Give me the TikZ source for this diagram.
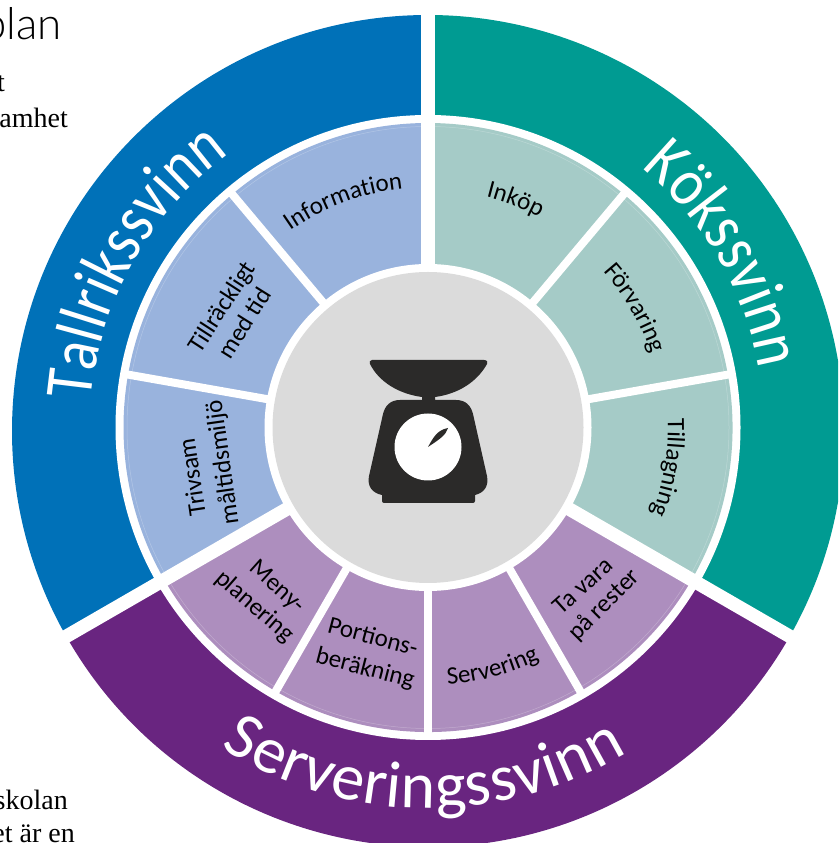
\documentclass[tikz,border=0pt]{standalone}
\usepackage{fontspec}
\usepackage{tikz}
\usetikzlibrary{decorations.text}
\newfontfamily\wheelfont{Carlito}
\newfontfamily\tightfont[FakeStretch=0.85]{Carlito}
\newfontfamily\headfont{Lato Light}
\newfontfamily\bookfont{Liberation Serif}
\newcommand{\bigtext}{\wheelfont\fontsize{66}{66}\selectfont\color{white}}
\newcommand{\tighttext}{\tightfont\fontsize{68}{68}\selectfont\color{white}}
\newcommand{\smalltext}{\wheelfont\fontsize{25}{25}\selectfont\color{black}}
\definecolor{plateblue}{HTML}{0071B8}
\definecolor{kitchengreen}{HTML}{009B92}
\definecolor{servepurple}{HTML}{692580}
\definecolor{plateblue2}{HTML}{99B3DD}
\definecolor{kitchengreen2}{HTML}{A5CBC7}
\definecolor{servepurple2}{HTML}{AD8EBE}
\definecolor{scalegray}{HTML}{DBDBDB}
\definecolor{scaleblack}{HTML}{2B2A29}

\begin{document}
\begin{tikzpicture}[
    x=1pt, y=1pt,
    % 外圈文字
    big label/.style={
        decorate,
        decoration={text along path, text={|\bigtext|#1}, text align=fit to path}
    },
    tight label/.style={
        decorate,
        decoration={text along path, text={|\tighttext|#1}, text align=fit to path}
    },
    % 内圈文字
    small label/.style={
        decorate,
        decoration={text along path, text={|\smalltext|#1}, text align=center}
    },
    % 内圈两行文字
    line label/.style={font=\smalltext, inner sep=0pt, anchor=base},
    % 白色分隔线
    main gap/.style={draw=white, line width=13.5pt},
    thin gap/.style={draw=white, line width=8pt},
    % 页边正文
    book text/.style={font=\bookfont\fontsize{28}{28}\selectfont, inner sep=0pt, anchor=base east}
]

\useasboundingbox (0,0) rectangle (838,843);
\clip (0,0) rectangle (838,843);

% 圆心
\coordinate (c) at (428,415.5);
\coordinate (o) at (428,412);

% 外圈三段
\fill[plateblue] (o) -- ([shift={(90:416)}]o) arc[start angle=90, end angle=210, radius=416] -- cycle;
\fill[servepurple] (o) -- ([shift={(210:416)}]o) arc[start angle=210, end angle=330, radius=416] -- cycle;
\fill[kitchengreen] (o) -- ([shift={(-30:416)}]o) arc[start angle=-30, end angle=90, radius=416] -- cycle;
\fill[white] (c) circle[radius=312.5];

% 内圈三段
\fill[plateblue2] (c) -- ([shift={(90:304.5)}]c) arc[start angle=90, end angle=210, radius=304.5] -- cycle;
\fill[servepurple2] (c) -- ([shift={(210:304.5)}]c) arc[start angle=210, end angle=330, radius=304.5] -- cycle;
\fill[kitchengreen2] (c) -- ([shift={(-30:304.5)}]c) arc[start angle=-30, end angle=90, radius=304.5] -- cycle;
\draw[white, opacity=0.25, line width=0.5pt] (c) circle[radius=301];

% 分隔线
\foreach \ang in {130,170,50,10,240,270,300} {
    \coordinate (thin\ang) at ([shift={(\ang:308)}]c);
    \draw[thin gap] (c) -- (thin\ang);
}
\foreach \ang in {90,210,330} {
    \coordinate (main\ang) at ([shift={(\ang:440)}]c);
    \draw[main gap] (c) -- (main\ang);
}

% 中心圆
\fill[white] (c) circle[radius=163.5];
\fill[scalegray] (c) circle[radius=155.5];

% 秤
\begin{scope}[shift={(0,843)}, yscale=-1]
\fill[scaleblack] (372,360) -- (484,360) .. controls (487,360) and (488,362) .. (487,364)
    .. controls (477,382) and (458,394) .. (435,397) -- (435,400) -- (456,400)
    .. controls (466,400) and (471,406) .. (473,414) -- (487,476)
    .. controls (489,486) and (484,493) .. (475,495) -- (475,501)
    .. controls (475,502) and (474,503) .. (473,503) -- (384,503)
    .. controls (383,503) and (382,502) .. (382,501) -- (382,495)
    .. controls (372,493) and (367,486) .. (369,476) -- (383,414)
    .. controls (385,406) and (390,400) .. (400,400) -- (422,400) -- (422,397)
    .. controls (399,394) and (379,382) .. (370,364)
    .. controls (369,362) and (370,360) .. (372,360) -- cycle;
\fill[white] (428,447) circle[radius=33.5];
\fill[scaleblack] (428,447) .. controls (433,438) and (437,430) .. (448,428)
    .. controls (446,435) and (440,439) .. (428,447) -- cycle;
\end{scope}

% 外圈文字
\path[tight label={Tallrikssvinn}] ([shift={(175.5:338)}]c) arc[start angle=175.5, end angle=126, radius=338];
\path[tight label={Kökssvinn}] ([shift={(50.5:336)}]c) arc[start angle=50.5, end angle=10, radius=336];
\path[big label={Serveringssvinn}] ([shift={(237:381)}]c) arc[start angle=237, end angle=301.5, radius=381];

% 内圈文字 (单行)
\path[small label={Information}] ([shift={(150:240)}]c) arc[start angle=150, end angle=71, radius=240];
\path[small label={Inköp}] ([shift={(109:238)}]c) arc[start angle=109, end angle=29, radius=238];
\path[small label={Förvaring}] ([shift={(70:235)}]c) arc[start angle=70, end angle=-10, radius=235];
\path[small label={Tillagning}] ([shift={(30.5:240)}]c) arc[start angle=30.5, end angle=-49.5, radius=240];
\path[small label={Servering}] ([shift={(245:258)}]c) arc[start angle=245, end angle=325, radius=258];

% 内圈文字 (两行)
\node[line label, rotate=57] (tillrackligt) at ([shift={(149.8:231)}]c) {Tillräckligt};
\node[line label, rotate=58] (medtid) at ([shift={(150.5:203)}]c) {med tid};
\node[line label, rotate=98.5] (trivsam) at ([shift={(192:233)}]c) {Trivsam};
\node[line label, rotate=98] (maltid) at ([shift={(189.8:201)}]c) {måltidsmiljö};
\node[line label, rotate=-42] (meny) at ([shift={(226.6:226)}]c) {Meny-};
\node[line label, rotate=-41] (planering) at ([shift={(226:256)}]c) {planering};
\node[line label, rotate=-15] (portions) at ([shift={(255.3:224)}]c) {Portions-};
\node[line label, rotate=-14.5] (berakning) at ([shift={(255.4:256)}]c) {beräkning};
\node[line label, rotate=42] (tavara) at ([shift={(-45.7:229)}]c) {Ta vara};
\node[line label, rotate=45] (parester) at ([shift={(-45.2:257)}]c) {på rester};

% 页边正文
\node[anchor=base east, inner sep=0pt, font=\headfont\fontsize{44}{44}\selectfont] (headline) at (62,803) {plan};
\node[book text] (line1) at (5,751) {t};
\node[book text] (line2) at (68,715) {amhet};
\node[book text] (line3) at (68,33) {skolan};
\node[book text] (line4) at (75,1) {et är en};

\end{tikzpicture}
\end{document}
